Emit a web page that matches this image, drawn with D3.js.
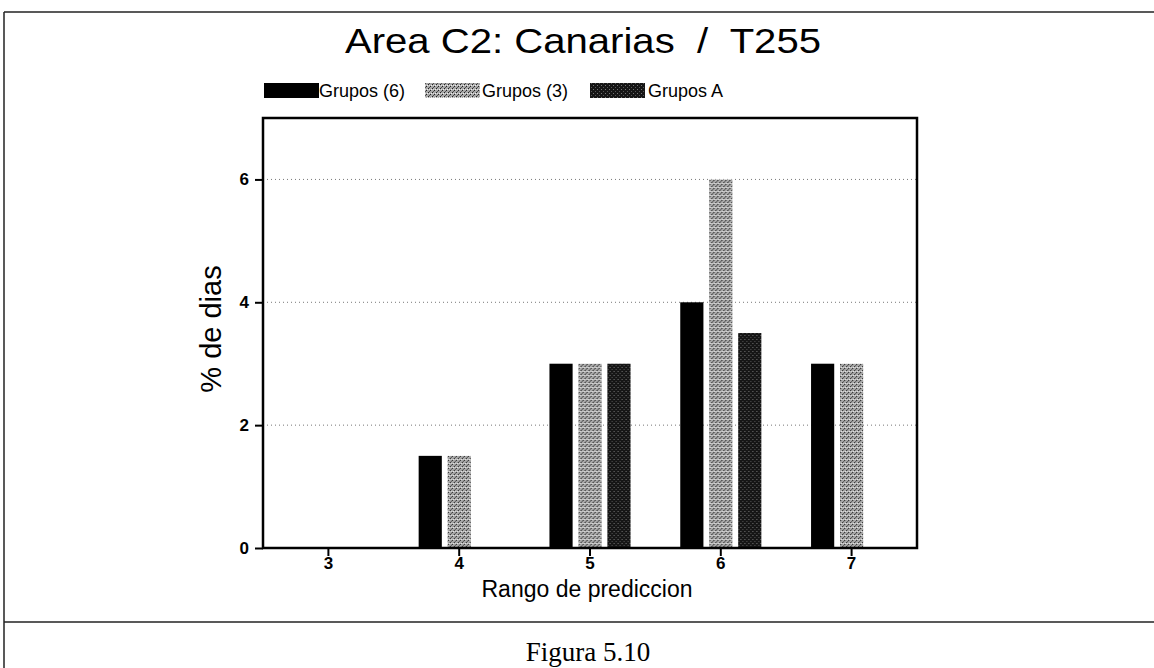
<!DOCTYPE html>
<html lang="es">
<head>
<meta charset="UTF-8">
<title>Area C2: Canarias / T255</title>
<script src="https://d3js.org/d3.v7.min.js"></script>
<style>
    body { margin: 0; background: #fff; }
    svg { display: block; }
    .tick-label { font-family: "Liberation Sans", Arial, sans-serif; font-size: 17px; font-weight: bold; }
    .legend text { font-family: "Liberation Sans", Arial, sans-serif; font-size: 18px; }
</style>
</head>
<body>
<svg width="1154" height="668"></svg>
<script>
    const categories = ["3", "4", "5", "6", "7"];
    const seriesNames = ["Grupos (6)", "Grupos (3)", "Grupos A"];
    const grupos6 = [0, 1.5, 3, 4, 3];
    const grupos3 = [0, 1.5, 3, 6, 3];
    const gruposA = [0, 0, 3, 3.5, 0];
    const yTicks = [0, 2, 4, 6];

    const seriesValues = [grupos6, grupos3, gruposA];
    const data = categories.map((c, i) => ({
        cat: c,
        vals: seriesNames.map((s, j) => ({ key: s, value: seriesValues[j][i] }))
    }));

    const svg = d3.select("svg");
    const defs = svg.append("defs");

    // light stipple
    const pLight = defs.append("pattern").attr("id", "light")
        .attr("patternUnits", "userSpaceOnUse").attr("width", 4).attr("height", 4);
    pLight.append("rect").attr("width", 4).attr("height", 4).attr("fill", "#a8a8a8");
    pLight.append("rect").attr("x", 0).attr("y", 0).attr("width", 1).attr("height", 1).attr("fill", "#222");
    pLight.append("rect").attr("x", 2).attr("y", 2).attr("width", 1).attr("height", 1).attr("fill", "#222");
    pLight.append("rect").attr("x", 1).attr("y", 3).attr("width", 1).attr("height", 1).attr("fill", "#555");
    pLight.append("rect").attr("x", 3).attr("y", 1).attr("width", 1).attr("height", 1).attr("fill", "#eee");
    pLight.append("rect").attr("x", 1).attr("y", 1).attr("width", 1).attr("height", 1).attr("fill", "#ddd");

    // dark stipple
    const pDark = defs.append("pattern").attr("id", "dark")
        .attr("patternUnits", "userSpaceOnUse").attr("width", 4).attr("height", 4);
    pDark.append("rect").attr("width", 4).attr("height", 4).attr("fill", "#161616");
    pDark.append("rect").attr("x", 1).attr("y", 1).attr("width", 1).attr("height", 1).attr("fill", "#777");
    pDark.append("rect").attr("x", 3).attr("y", 3).attr("width", 1).attr("height", 1).attr("fill", "#555");

    const color = d3.scaleOrdinal()
        .domain(seriesNames)
        .range(["#000", "url(#light)", "url(#dark)"]);

    // page frame
    svg.append("line").attr("x1", 4).attr("x2", 4).attr("y1", 12).attr("y2", 668)
        .attr("stroke", "#222").attr("stroke-width", 1.5);
    svg.append("line").attr("x1", 4).attr("x2", 1154).attr("y1", 12).attr("y2", 12)
        .attr("stroke", "#222").attr("stroke-width", 1.5);
    svg.append("line").attr("x1", 4).attr("x2", 1154).attr("y1", 622).attr("y2", 622)
        .attr("stroke", "#222").attr("stroke-width", 1.5);

    svg.append("text")
        .attr("x", 588).attr("y", 661)
        .attr("text-anchor", "middle")
        .style("font-family", "'Liberation Serif', 'Times New Roman', serif")
        .style("font-size", "27px")
        .text("Figura 5.10");

    // title
    svg.append("text")
        .attr("x", 583).attr("y", 53)
        .attr("text-anchor", "middle")
        .attr("textLength", 476).attr("lengthAdjust", "spacingAndGlyphs")
        .style("white-space", "pre")
        .style("font-family", "'Liberation Sans', Arial, sans-serif")
        .style("font-size", "35px")
        .text("Area C2: Canarias  /  T255");

    const margin = { top: 118, left: 263, right: 237, bottom: 120 };
    const width = 1154 - margin.left - margin.right;
    const height = 668 - margin.top - margin.bottom;

    const g = svg.append("g").attr("transform", `translate(${margin.left},${margin.top})`);

    const x0 = d3.scaleBand().domain(categories).range([0, width]).paddingInner(0).paddingOuter(0);
    const bw = x0.bandwidth();
    const x1 = d3.scaleBand().domain(seriesNames).range([bw * 0.19, bw * 0.81]).paddingInner(0.2);
    const y = d3.scaleLinear().domain([0, 7]).range([height, 0]);

    // grid
    g.selectAll(".grid").data(yTicks.filter(d => d > 0)).enter().append("line")
        .attr("x1", 0).attr("x2", width)
        .attr("y1", d => y(d)).attr("y2", d => y(d))
        .attr("stroke", "#777").attr("stroke-width", 1)
        .attr("stroke-dasharray", "1,3");

    // bars
    const groups = g.selectAll(".grp").data(data).enter().append("g")
        .attr("transform", d => `translate(${x0(d.cat)},0)`);
    groups.selectAll("rect").data(d => d.vals.filter(v => v.value > 0)).enter().append("rect")
        .attr("x", d => x1(d.key))
        .attr("y", d => y(d.value))
        .attr("width", x1.bandwidth())
        .attr("height", d => height - y(d.value))
        .attr("fill", d => color(d.key));

    // y axis
    const yAxis = g.append("g")
        .call(d3.axisLeft(y).tickValues(yTicks).tickSize(8).tickPadding(6).tickFormat(d3.format("d")));
    yAxis.select(".domain").remove();
    yAxis.selectAll("line").attr("stroke", "#000").attr("stroke-width", 2);
    yAxis.selectAll("text").attr("class", "tick-label").attr("fill", "#000");

    // x axis
    const xAxis = g.append("g").attr("transform", `translate(0,${height})`)
        .call(d3.axisBottom(x0).tickSize(8).tickPadding(1));
    xAxis.select(".domain").remove();
    xAxis.selectAll("line").attr("stroke", "#000").attr("stroke-width", 2);
    xAxis.selectAll("text").attr("class", "tick-label").attr("fill", "#000");

    // plot frame
    g.append("rect").attr("x", 0).attr("y", 0).attr("width", width).attr("height", height)
        .attr("fill", "none").attr("stroke", "#000").attr("stroke-width", 2.5);

    // axis titles
    g.append("text")
        .attr("transform", `translate(-42,${height / 2 - 4}) rotate(-90)`)
        .attr("text-anchor", "middle")
        .style("font-family", "'Liberation Sans', Arial, sans-serif")
        .style("font-size", "29px")
        .text("% de dias");

    svg.append("text")
        .attr("x", 587).attr("y", 597)
        .attr("text-anchor", "middle")
        .style("font-family", "'Liberation Sans', Arial, sans-serif")
        .style("font-size", "23px")
        .text("Rango de prediccion");

    // legend
    const legendItems = [
        { key: seriesNames[0], sx: 264, tx: 319 },
        { key: seriesNames[1], sx: 425, tx: 482 },
        { key: seriesNames[2], sx: 590, tx: 648 }
    ];
    const legend = svg.append("g").attr("class", "legend");
    legend.selectAll("rect").data(legendItems).enter().append("rect")
        .attr("x", d => d.sx).attr("y", 83).attr("width", 55).attr("height", 15)
        .attr("fill", d => color(d.key));
    legend.selectAll("text").data(legendItems).enter().append("text")
        .attr("x", d => d.tx).attr("y", 97)
        .text(d => d.key);
</script>
</body>
</html>
